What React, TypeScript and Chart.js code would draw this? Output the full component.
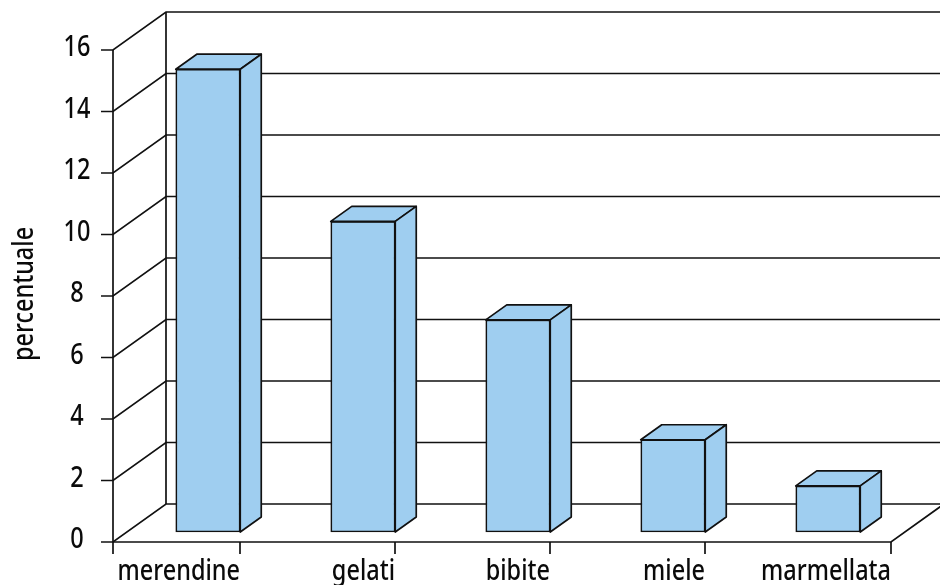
import React, { useEffect, useRef } from "react";
import { Chart, registerables } from "chart.js";

Chart.register(...registerables);

const categories = ["merendine", "gelati", "bibite", "miele", "marmellata"];
const percentages = [15.05, 10.1, 6.9, 3, 1.5];
const yMax = 16;
const yStep = 2;
const yTitle = "percentuale";

const INK = "#111111";
const TEXT = "#0a0a0a";
const BAR_FILL = "#9fcef0";
const LINE = 1.7;
const FONT = "500 29px 'Noto Sans', sans-serif";
// All labels are set in a condensed cut of the face.
const SQUEEZE = 0.81;

// Oblique projection of the box: how far the back wall sits from the front plane.
const WALL_DX = 53;
const WALL_DY = -38;
// Depth of each bar and its inset from the front plane.
const BAR_DX = 21;
const BAR_DY = -15;
const BAR_LIFT = -10;

const AXIS_LEFT = 113;
const AXIS_RIGHT = 891;
const TICK = 12;
const HALF_BAR = 32;

function segment(ctx: CanvasRenderingContext2D, pts: number[][]) {
  ctx.beginPath();
  pts.forEach(([x, y], i) => (i ? ctx.lineTo(x, y) : ctx.moveTo(x, y)));
  ctx.stroke();
}

function polygon(ctx: CanvasRenderingContext2D, pts: number[][]) {
  ctx.beginPath();
  pts.forEach(([x, y], i) => (i ? ctx.lineTo(x, y) : ctx.moveTo(x, y)));
  ctx.closePath();
  ctx.fill();
  ctx.stroke();
}

function label(
  ctx: CanvasRenderingContext2D,
  text: string,
  x: number,
  y: number,
  align: CanvasTextAlign,
  rotation = 0
) {
  ctx.save();
  ctx.translate(x, y);
  ctx.rotate(rotation);
  ctx.scale(SQUEEZE, 1);
  ctx.textAlign = align;
  ctx.textBaseline = "alphabetic";
  ctx.fillText(text, 0, 0);
  ctx.restore();
}

const box3d = {
  id: "box3d",
  // Back wall, floor and the left wall with its value ticks.
  beforeDatasetsDraw(chart: any) {
    const { ctx, scales, width } = chart;
    const y = scales.y;
    const y0 = y.getPixelForValue(0);
    const yTop = y.getPixelForValue(yMax);
    ctx.save();
    ctx.strokeStyle = INK;
    ctx.lineWidth = LINE;
    y.ticks.forEach((tick: any) => {
      const py = y.getPixelForValue(tick.value);
      segment(ctx, [
        [AXIS_LEFT - TICK, py],
        [AXIS_LEFT, py],
        [AXIS_LEFT + WALL_DX, py + WALL_DY],
        [width, py + WALL_DY],
      ]);
    });
    segment(ctx, [[AXIS_LEFT, yTop], [AXIS_LEFT, y0 + TICK]]);
    segment(ctx, [[AXIS_LEFT + WALL_DX, yTop + WALL_DY], [AXIS_LEFT + WALL_DX, y0 + WALL_DY]]);
    segment(ctx, [[AXIS_LEFT, y0], [AXIS_RIGHT, y0], [AXIS_RIGHT + WALL_DX, y0 + WALL_DY]]);
    ctx.restore();
    // The bars stand slightly inside the floor.
    ctx.save();
    ctx.translate(0, BAR_LIFT);
  },
  // Top and side faces of every bar.
  afterDatasetsDraw(chart: any) {
    const { ctx } = chart;
    ctx.fillStyle = BAR_FILL;
    ctx.strokeStyle = INK;
    ctx.lineWidth = LINE;
    ctx.lineJoin = "round";
    chart.getDatasetMeta(0).data.forEach((bar: any) => {
      const l = bar.x - bar.width / 2;
      const r = bar.x + bar.width / 2;
      polygon(ctx, [
        [l, bar.y],
        [l + BAR_DX, bar.y + BAR_DY],
        [r + BAR_DX, bar.y + BAR_DY],
        [r, bar.y],
      ]);
      polygon(ctx, [
        [r, bar.y],
        [r + BAR_DX, bar.y + BAR_DY],
        [r + BAR_DX, bar.base + BAR_DY],
        [r, bar.base],
      ]);
    });
    ctx.restore();
  },
  // Category ticks and labels sit at the right edge of each bar; the last closes the axis.
  afterDraw(chart: any) {
    const { ctx, scales } = chart;
    const y = scales.y;
    const y0 = y.getPixelForValue(0);
    ctx.save();
    ctx.strokeStyle = INK;
    ctx.lineWidth = LINE;
    ctx.fillStyle = TEXT;
    ctx.font = FONT;
    categories.forEach((name, i) => {
      const px =
        i === categories.length - 1
          ? AXIS_RIGHT
          : scales.x.getPixelForValue(i) + HALF_BAR;
      segment(ctx, [[px, y0], [px, y0 + TICK]]);
      label(ctx, name, px, 580, "right");
    });
    y.ticks.forEach((tick: any) => {
      label(ctx, String(tick.value), 77, y.getPixelForValue(tick.value) + 6, "center");
    });
    label(ctx, yTitle, 33, (y.top + y.bottom) / 2 - 2, "center", -Math.PI / 2);
    ctx.restore();
  },
};

export default function App() {
  const ref = useRef<HTMLCanvasElement>(null);

  useEffect(() => {
    const chart = new Chart(ref.current!, {
      type: "bar",
      data: {
        labels: categories,
        datasets: [
          {
            data: percentages,
            backgroundColor: BAR_FILL,
            borderColor: INK,
            borderWidth: LINE,
            borderSkipped: false,
            barThickness: HALF_BAR * 2 + 0.5,
            clip: false,
          },
        ],
      },
      options: {
        animation: false,
        responsive: false,
        layout: { padding: { top: 50, left: 0, right: 34.5, bottom: 0 } },
        plugins: { legend: { display: false }, tooltip: { enabled: false } },
        scales: {
          x: {
            grid: { display: false },
            border: { display: false },
            ticks: { display: false },
            afterFit: (s: any) => {
              s.height = 43;
            },
          },
          y: {
            min: 0,
            max: yMax,
            grid: { display: false, drawTicks: false },
            border: { display: false },
            ticks: { display: false, stepSize: yStep },
            afterFit: (s: any) => {
              s.width = 130.5;
            },
          },
        },
      },
      plugins: [box3d],
    } as any);
    return () => chart.destroy();
  }, []);

  return (
    <div style={{ position: "absolute", left: 0, top: 0, width: 940, height: 585 }}>
      <canvas ref={ref} width={940} height={585} style={{ display: "block" }} />
    </div>
  );
}
